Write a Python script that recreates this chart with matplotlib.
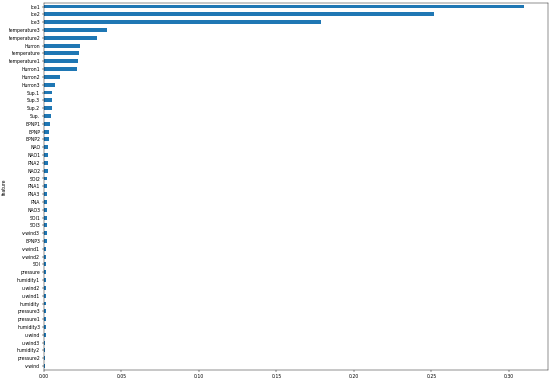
import numpy as np
import matplotlib.pyplot as plt

features = ["Ice1", "Ice2", "Ice3", "temperature3", "temperature2", "Hurron",
            "temperature", "temperature1", "Hurron1", "Hurron2", "Hurron3",
            "Sup.1", "Sup.3", "Sup.2", "Sup.", "EPNP1", "EPNP", "EPNP2",
            "NAO", "NAO1", "PNA2", "NAO2", "SOI2", "PNA1", "PNA3", "PNA",
            "NAO3", "SOI1", "SOI3", "v-wind3", "EPNP3", "v-wind1", "v-wind2",
            "SOI", "pressure", "humidity1", "u-wind2", "u-wind1", "humidity",
            "pressure3", "pressure1", "humidity3", "u-wind", "u-wind3",
            "humidity2", "pressure2", "v-wind"]

importance = [0.3095, 0.2515, 0.1785, 0.0407, 0.0340, 0.0232,
              0.0226, 0.0220, 0.0214, 0.0106, 0.0071,
              0.0053, 0.0050, 0.0049, 0.0042, 0.0038, 0.0034, 0.0031,
              0.0025, 0.0024, 0.0023, 0.0023, 0.0022, 0.0021, 0.0021, 0.0020,
              0.0020, 0.0019, 0.0018, 0.0017, 0.0017, 0.0016, 0.0016,
              0.0015, 0.0014, 0.0013, 0.0013, 0.0012, 0.0012,
              0.0011, 0.0011, 0.0010, 0.0010, 0.0009,
              0.0009, 0.0008, 0.0008]

fig = plt.figure(figsize=(14.1, 9.77), dpi=39)
ax = fig.add_axes([0.08, 0.029, 0.916, 0.964])

y = np.arange(len(features))[::-1]
ax.barh(y, importance, height=0.5, color="#1f77b4")
ax.set_yticks(y)
ax.set_yticklabels(features, fontsize=8.5)
ax.set_ylim(-0.5, len(features) - 0.5)
ax.set_xlim(0, max(importance) * 1.05)
ax.tick_params(axis="x", labelsize=8.5)
ax.set_ylabel("feature", fontsize=8.5)
ax.yaxis.set_label_coords(-0.073, 0.5)

fig.savefig("out.png", dpi=39)
